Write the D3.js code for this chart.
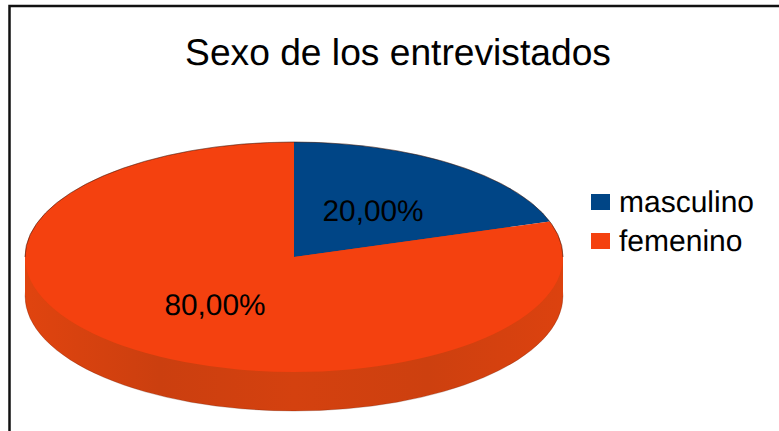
<!DOCTYPE html>
<html><head><meta charset="utf-8">
<script src="https://cdnjs.cloudflare.com/ajax/libs/d3/7.8.5/d3.min.js"></script>
<style>html,body{margin:0;padding:0;background:#fff}svg{display:block}text{font-family:"Liberation Sans",Arial,sans-serif;fill:#000;text-rendering:geometricPrecision}</style>
</head><body><svg id="c" width="779" height="431"></svg>
<script>
const title = "Sexo de los entrevistados";
const categories = ["masculino", "femenino"];
const values = [20, 80];
const colors = ["#004586", "#f4410f"];
const sideStops = ["#e0440f", "#cb3f0f", "#d4410f", "#cd400f", "#dc420f"];

const W = 779, H = 431;
const cx = 294, cy = 257, rx = 269, ry = 115, depth = 39;
const svg = d3.select("#c");

const defs = svg.append("defs");
const grad = defs.append("linearGradient").attr("id", "side");
sideStops.forEach((c, i) => grad.append("stop").attr("offset", i / (sideStops.length - 1)).attr("stop-color", c));

svg.append("path").attr("d", d3.line()([[9.5, H], [9.5, 6], [W, 6]]))
  .attr("fill", "none").attr("stroke", "#111").attr("stroke-width", 2.5);

const pie = d3.pie().sort(null).value(d => d);
const arcs = pie(values);
const arc = d3.arc().innerRadius(0).outerRadius(1);
const full = arc({startAngle: 0, endAngle: 2 * Math.PI});

const xScale = d3.scaleLinear().domain([-1, 1]).range([cx - rx, cx + rx]);
const yScale = d3.scaleLinear().domain([-1, 1]).range([cy - ry, cy + ry]);
const ellipse = `translate(${cx},${cy}) scale(${rx},${ry})`;

// side wall: lower ellipse plus band joining it to the top face
svg.append("path").attr("d", full).attr("transform", `translate(${cx},${cy + depth}) scale(${rx},${ry})`)
  .attr("fill", "url(#side)").attr("stroke", "#5a1a08").attr("stroke-width", 0.7)
  .attr("stroke-opacity", 0.35).attr("vector-effect", "non-scaling-stroke");
svg.append("rect").attr("x", xScale(-1)).attr("y", cy).attr("width", xScale(1) - xScale(-1)).attr("height", depth)
  .attr("fill", "url(#side)");

// top face
const g = svg.append("g");
g.selectAll("path").data(arcs).join("path")
  .attr("d", arc).attr("transform", ellipse)
  .attr("fill", (d, i) => colors[i]);
// faint dark rim along the upper edge only
g.append("path").attr("d", d3.arc().innerRadius(1).outerRadius(1)({startAngle: -Math.PI / 2, endAngle: Math.PI / 2}))
  .attr("transform", ellipse).attr("fill", "none")
  .attr("stroke", "#3a1206").attr("stroke-width", 0.7).attr("stroke-opacity", 0.45)
  .attr("vector-effect", "non-scaling-stroke");

// percentage labels
const fmt = v => v.toFixed(2).replace(".", ",") + "%";
const total = d3.sum(values);
const labelArc = d3.arc().innerRadius(0).outerRadius(1);
svg.selectAll("text.lab").data(arcs).join("text").attr("class", "lab")
  .attr("x", d => xScale(labelArc.centroid(d)[0]))
  .attr("y", d => yScale(labelArc.centroid(d)[1]) + 11)
  .attr("text-anchor", "middle").attr("font-size", 29.8)
  .text(d => fmt(d.value / total * 100));

svg.append("text").attr("x", 398).attr("y", 65).attr("text-anchor", "middle")
  .attr("font-size", 37.2).text(title);

const legendY = d3.scalePoint().domain(categories).range([202, 241]);
const lg = svg.selectAll("g.leg").data(categories).join("g").attr("class", "leg")
  .attr("transform", d => `translate(591,${legendY(d)})`);
lg.append("rect").attr("y", -8).attr("width", 19).attr("height", 16).attr("fill", (d, i) => colors[i]);
lg.append("text").attr("x", 28).attr("y", 10).attr("font-size", 30).text(d => d);
</script></body></html>
